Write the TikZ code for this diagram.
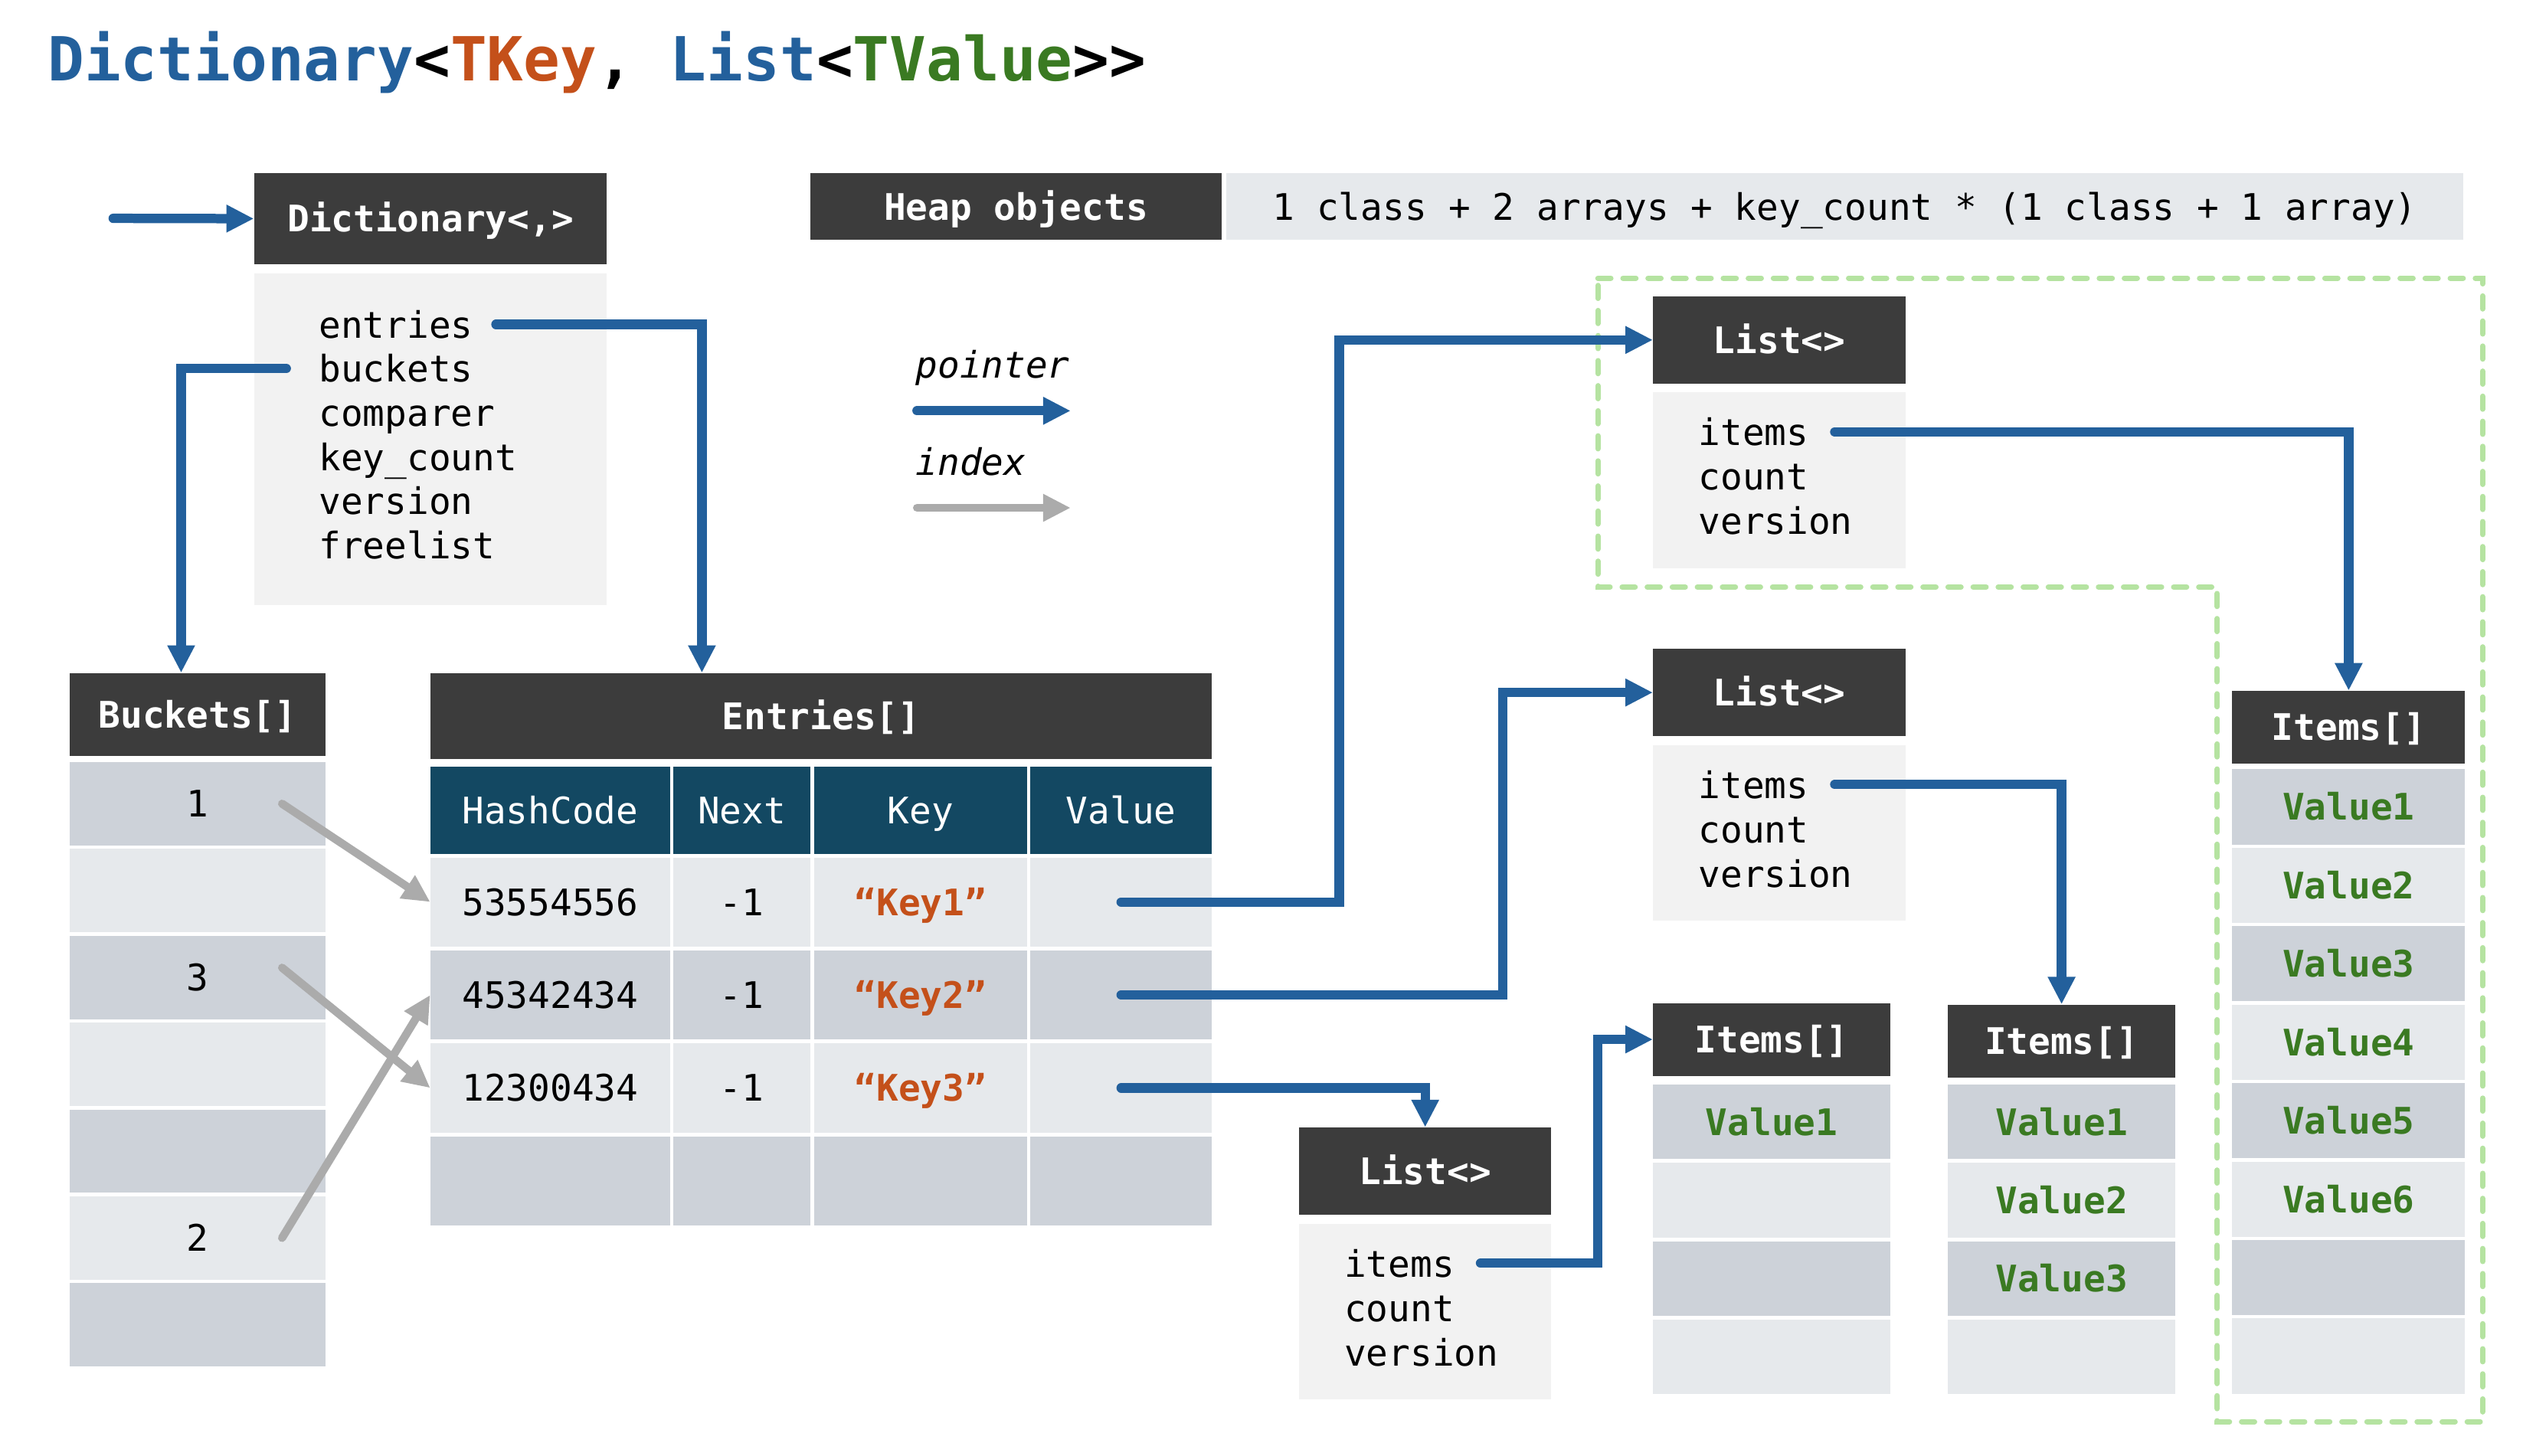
\documentclass[tikz,border=0pt]{standalone}
\usepackage{fontspec}
\newfontfamily\monofont{DejaVu Sans Mono}
\usetikzlibrary{arrows.meta}

\definecolor{hdrgray}{HTML}{3C3C3C}
\definecolor{colhead}{HTML}{134862}
\definecolor{bodygray}{HTML}{F2F2F2}
\definecolor{cdark}{HTML}{CDD2D9}
\definecolor{clight}{HTML}{E6E9EC}
\definecolor{ptrblue}{HTML}{23609C}
\definecolor{idxgray}{HTML}{ABABAB}
\definecolor{keyorange}{HTML}{C4501A}
\definecolor{valgreen}{HTML}{3A7A22}
\definecolor{grpgreen}{HTML}{B5E3A1}

\newcommand\txtsize{\fontsize{22.6}{27}\selectfont}
\newcommand\ttlsize{\fontsize{37.6}{44}\selectfont}

\tikzset{
	wh/.style 2 args={minimum width=#1pt, minimum height=#2pt},
	hdr/.style={fill=hdrgray, text=white, font=\monofont\txtsize\bfseries, inner sep=0pt, text height=16.5pt, text depth=0pt, anchor=north west},
	colhdr/.style={fill=colhead, text=white, font=\monofont\txtsize, inner sep=0pt, text height=16.5pt, text depth=0pt, anchor=north west},
	cell/.style={font=\monofont\txtsize, inner sep=0pt, text height=16.5pt, text depth=0pt, anchor=north west},
	val/.style={text=valgreen, font=\monofont\txtsize\bfseries},
	bodybox/.style={fill=bodygray, inner sep=0pt, anchor=north west},
	field/.style={font=\monofont\txtsize, inner sep=0pt, anchor=base west},
	ptr/.style={draw=ptrblue, line width=5.8pt, line cap=round, -{Triangle[length=17pt,width=16pt]}},
	idx/.style={draw=idxgray, line width=5pt, line cap=round, -{Triangle[length=17pt,width=16pt]}},
	grp/.style={draw=grpgreen, line width=3.3pt, line cap=round, dash pattern=on 8pt off 7.5pt},
}

\begin{document}
\begin{tikzpicture}[x=1pt,y=-1pt]
	\useasboundingbox (0,0) rectangle (1560,900);
	\node[anchor=base west, font=\monofont\ttlsize\bfseries] (title) at (26,50)
		{\textcolor{ptrblue}{Dictionary}<\textcolor{keyorange}{TKey}, \textcolor{ptrblue}{List}<\textcolor{valgreen}{TValue}>{}>};

	% heap objects group
	\draw[grp] (988,172) -- (1535,172) -- (1535,879) -- (1371,879) -- (1371,363) -- (988,363) -- cycle;

	% dictionary
	\node[hdr, wh={218}{56}] (dictHdr) at (157,107) {Dictionary<,>};
	\node[bodybox, wh={218}{205}] (dictBody) at (157,169) {};
	\foreach \f [count=\i] in {entries,buckets,comparer,key\_count,version,freelist}
		\node[field] (d\i) at (197,{181.7+27.3*\i}) {\f};
	\coordinate (dIn) at (70,135);
	\draw[ptr] (dIn) -- (dictHdr.west);

	\node[hdr, wh={254}{41}] (heapHdr) at (501,107) {Heap objects};
	\node[cell, fill=clight, wh={765}{41}] (heapSum) at (758,107) {1 class + 2 arrays + key\_count * (1 class + 1 array)};

	% legend
	\node[field, font=\monofont\txtsize\itshape] (lgPtr) at (566,233.5) {pointer};
	\node[field, font=\monofont\txtsize\itshape] (lgIdx) at (566,294) {index};
	\coordinate (pA) at (567,254);
	\coordinate (pB) at (662,254);
	\coordinate (iA) at (567,314);
	\coordinate (iB) at (662,314);
	\draw[ptr] (pA) -- (pB);
	\draw[idx] (iA) -- (iB);

	% buckets
	\node[hdr, wh={158}{51}] (bkHdr) at (43,416) {Buckets[]};
	\foreach \i/\c/\t in {1/cdark/1,2/clight/{},3/cdark/3,4/clight/{},5/cdark/{},6/clight/2,7/cdark/{}}
		\node[cell, fill=\c, wh={158}{51.5}] (bk\i) at (43,{471+53.7*(\i-1)}) {\t};

	% entries
	\node[hdr, wh={483}{53}] (enHdr) at (266,416) {Entries[]};
	\node[colhdr, wh={148}{54}] (cHash) at (266,474) {HashCode};
	\node[colhdr, wh={85}{54}] (cNext) at (416,474) {Next};
	\node[colhdr, wh={132}{54}] (cKey) at (503,474) {Key};
	\node[colhdr, wh={112}{54}] (cVal) at (637,474) {Value};
	\foreach \r/\h/\n/\k/\c in {1/53554556/-1/“Key1”/clight,2/45342434/-1/“Key2”/cdark,3/12300434/-1/“Key3”/clight,4/{}/{}/{}/cdark} {
		\node[cell, fill=\c, wh={148}{55}] (h\r) at (266,{530+57.5*(\r-1)}) {\h};
		\node[cell, fill=\c, wh={85}{55}] (n\r) at (416,{530+57.5*(\r-1)}) {\n};
		\node[cell, fill=\c, wh={132}{55}, text=keyorange, font=\monofont\txtsize\bfseries] (k\r) at (503,{530+57.5*(\r-1)}) {\k};
		\node[cell, fill=\c, wh={112}{55}] (v\r) at (637,{530+57.5*(\r-1)}) {};
	}

	% lists
	\foreach \l/\x/\y in {1/1022/183,2/1022/401,3/803/697} {
		\node[hdr, wh={156}{54}] (l\l Hdr) at (\x,\y) {List<>};
		\node[bodybox, wh={156}{108.5}] (l\l Body) at (\x,\y+59.5) {};
		\node[field] (items\l) at (\x+28,\y+92.5) {items};
		\node[field] (count\l) at (\x+28,\y+120) {count};
		\node[field] (version\l) at (\x+28,\y+147.5) {version};
	}

	% item arrays
	\node[hdr, wh={146.5}{45}] (iaHdr) at (1022,620) {Items[]};
	\node[hdr, wh={141}{45}] (ibHdr) at (1204,621) {Items[]};
	\node[hdr, wh={144}{45}] (icHdr) at (1380,427) {Items[]};
	\foreach \i/\c/\t in {1/cdark/Value1,2/clight/{},3/cdark/{},4/clight/{}}
		\node[cell, fill=\c, wh={146.5}{46}, val] (ia\i) at (1022,{670.5+48.4*(\i-1)}) {\t};
	\foreach \i/\c/\t in {1/cdark/Value1,2/clight/Value2,3/cdark/Value3,4/clight/{}}
		\node[cell, fill=\c, wh={141}{46}, val] (ib\i) at (1204,{670.5+48.4*(\i-1)}) {\t};
	\foreach \i/\c/\t in {1/cdark/Value1,2/clight/Value2,3/cdark/Value3,4/clight/Value4,5/cdark/Value5,6/clight/Value6,7/cdark/{},8/clight/{}}
		\node[cell, fill=\c, wh={144}{46.5}, val] (ic\i) at (1380,{475.5+48.5*(\i-1)}) {\t};

	% pointers
	\draw[ptr] ([xshift=14pt]d1.east) -| ([xshift=168pt]enHdr.north west);
	\draw[ptr] ([xshift=-20pt]d2.west) -| ([xshift=69pt]bkHdr.north west);
	\draw[ptr] (v1.center) -| ([xshift=-194pt]l1Hdr.west) -- (l1Hdr.west);
	\draw[ptr] (v2.center) -| ([xshift=-93pt]l2Hdr.west) -- (l2Hdr.west);
	\draw[ptr] (v3.center) -| (l3Hdr.north);
	\draw[ptr] ([xshift=16pt]items1.east) -| (icHdr.north);
	\draw[ptr] ([xshift=16pt]items2.east) -| (ibHdr.north);
	\draw[ptr] ([xshift=16pt]items3.east) -| ([xshift=-34pt]iaHdr.west) -- (iaHdr.west);

	% indices
	\draw[idx] ([xshift=-27pt]bk1.east) -- (h1.west);
	\draw[idx] ([xshift=-27pt,yshift=6pt]bk3.east) -- (h3.west);
	\draw[idx] ([xshift=-27pt]bk6.east) -- (h2.west);
\end{tikzpicture}
\end{document}
